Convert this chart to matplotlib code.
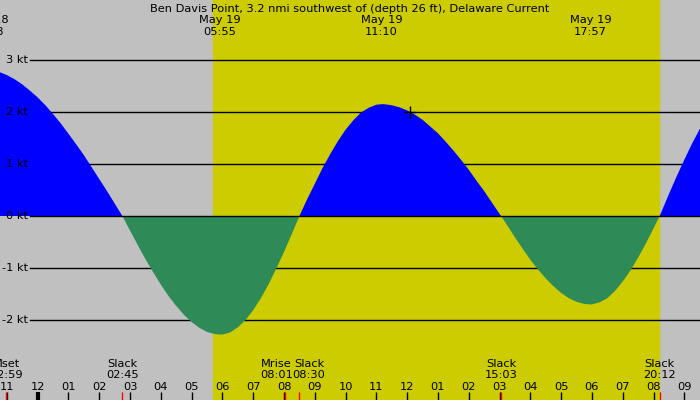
"""
Tidal current prediction strip, Ben Davis Point (Delaware), 19 May.
"""
import matplotlib
matplotlib.use("Agg")
import matplotlib.pyplot as plt
import matplotlib.transforms as mtransforms
import numpy as np

plt.rcParams.update({
    "font.family": "DejaVu Sans",
    "font.size": 8.2,
})

TITLE = "Ben Davis Point, 3.2 nmi southwest of (depth 26 ft), Delaware Current"

# hours after midnight of May 19 (negative values are late May 18), speed in knots
hours = [-1.5, -1.25, -1.0, -0.75, -0.5, -0.25, 0.0, 0.25, 0.5, 0.75,
         1.0, 1.25, 1.5, 1.75, 2.0, 2.25, 2.5, 2.75,
         3.0, 3.25, 3.5, 3.75, 4.0, 4.25, 4.5, 4.75, 5.0, 5.25, 5.5, 5.75, 5.93,
         6.0, 6.25, 6.5, 6.75, 7.0, 7.25, 7.5, 7.75, 8.0, 8.25, 8.5,
         8.75, 9.0, 9.25, 9.5, 9.75, 10.0, 10.25, 10.5, 10.75, 11.0, 11.17,
         11.25, 11.5, 11.75, 12.0, 12.25, 12.5, 12.75, 13.0, 13.25, 13.5,
         13.75, 14.0, 14.25, 14.5, 14.75, 15.0, 15.05,
         15.25, 15.5, 15.75, 16.0, 16.25, 16.5, 16.75, 17.0, 17.25, 17.5,
         17.75, 17.95,
         18.0, 18.25, 18.5, 18.75, 19.0, 19.25, 19.5, 19.75, 20.0, 20.2,
         20.25, 20.5, 20.75, 21.0, 21.25, 21.5, 21.75, 22.0]
speed = [2.81, 2.77, 2.71, 2.63, 2.53, 2.41, 2.28, 2.13, 1.96, 1.78,
         1.58, 1.38, 1.17, 0.94, 0.71, 0.48, 0.24, 0.0,
         -0.28, -0.56, -0.83, -1.08, -1.32, -1.54, -1.73, -1.90, -2.04, -2.15,
         -2.23, -2.27, -2.28,
         -2.28, -2.24, -2.14, -2.00, -1.81, -1.58, -1.31, -1.01, -0.69, -0.35, 0.0,
         0.32, 0.62, 0.92, 1.19, 1.44, 1.66, 1.84, 1.99, 2.08, 2.14, 2.15,
         2.15, 2.13, 2.09, 2.03, 1.95, 1.85, 1.72, 1.59, 1.43, 1.26,
         1.08, 0.89, 0.68, 0.48, 0.26, 0.04, 0.0,
         -0.18, -0.41, -0.63, -0.84, -1.03, -1.20, -1.35, -1.48, -1.58, -1.65,
         -1.69, -1.70,
         -1.70, -1.66, -1.58, -1.44, -1.26, -1.05, -0.80, -0.53, -0.24, 0.0,
         0.07, 0.42, 0.76, 1.08, 1.39, 1.67, 1.91, 2.12]

sunrise, sunset = 5.70, 20.18

# max flood / max ebb labels along the top
peak_hours = [-1.63, 5.92, 11.17, 17.95]
peak_dates = ["May 18", "May 19", "May 19", "May 19"]
peak_times = ["22:28", "05:55", "11:10", "17:57"]

# slack water and moon events along the bottom
event_hours = [-1.017, 2.75, 8.017, 8.5, 15.05, 20.2]
event_names = ["Mset", "Slack", "Mrise", "Slack", "Slack", "Slack"]
event_times = ["22:59", "02:45", "08:01", "08:30", "15:03", "20:12"]
event_nudge = [0, 0, -6, 7, 0, 0]  # points, keeps Mrise/Slack apart

now_hour, now_speed = 12.09, 2.0

kt_levels = [3, 2, 1, 0, -1, -2]
tick_hours = list(range(-1, 22))

W, H = 700, 400


def fy(py):
    return 1 - py / H


fig = plt.figure(figsize=(7, 4), dpi=100)
fig.patch.set_facecolor("#c0c0c0")
ax = fig.add_axes([0, 0, 1, 1])
ax.set_facecolor("#c0c0c0")
ax.set_xlim(-37.7 / 30.79, (W - 37.7) / 30.79)
ax.set_ylim((216 - H) / 52, 216 / 52)
ax.axis("off")
ax.add_patch(plt.Rectangle((0, 0), 1, 1, transform=ax.transAxes,
                           facecolor="#c0c0c0", zorder=-2))

ax.axvspan(sunrise, sunset, color="#cccc00", zorder=0)

for lev in kt_levels:
    ax.axhline(lev, xmin=30 / W, xmax=1, color="black", lw=1.0,
               zorder=3 if lev == 0 else 1)

t = np.array(hours)
v = np.array(speed)
ax.fill_between(t, 0, v, where=v >= 0, interpolate=True,
                color="#0000ff", lw=0, zorder=2)
ax.fill_between(t, 0, v, where=v <= 0, interpolate=True,
                color="#2e8b57", lw=0, zorder=2)

ax.plot([now_hour], [now_speed], marker="+", color="black",
        markersize=8, mew=1.0, zorder=5)

# y labels
lab_tr = mtransforms.blended_transform_factory(fig.transFigure, ax.transData)
for lev in kt_levels:
    ax.text(28 / W, lev, f"{lev} kt", transform=lab_tr, ha="right",
            va="center", zorder=4)

top_tr = mtransforms.blended_transform_factory(ax.transData, fig.transFigure)
ax.text(0.5, fy(11.7), TITLE, transform=fig.transFigure, ha="center",
        va="baseline")
for h, d, tm in zip(peak_hours, peak_dates, peak_times):
    ax.text(h, fy(23.3), d, transform=top_tr, ha="center", va="baseline")
    ax.text(h, fy(35.3), tm, transform=top_tr, ha="center", va="baseline")

# hour ticks along the bottom
for h in tick_hours:
    lw = 3 if h % 24 == 0 else 1
    ax.plot([h, h], [fy(392), fy(400)], transform=top_tr, color="black",
            lw=lw, solid_capstyle="butt", zorder=4)
    lab = f"{(h % 12) or 12:02d}"
    ax.text(h, fy(390), lab, transform=top_tr, ha="center", va="baseline")

for h, name, tm, dx in zip(event_hours, event_names, event_times, event_nudge):
    ax.plot([h, h], [fy(392), fy(400)], transform=top_tr, color="red",
            lw=1, solid_capstyle="butt", zorder=5)
    off = mtransforms.offset_copy(top_tr, fig=fig, x=dx, y=0, units="points")
    ax.text(h, fy(366.7), name, transform=off, ha="center", va="baseline")
    ax.text(h, fy(378), tm, transform=off, ha="center", va="baseline")

fig.savefig("out.png", dpi=100, facecolor=fig.get_facecolor())
plt.close(fig)
